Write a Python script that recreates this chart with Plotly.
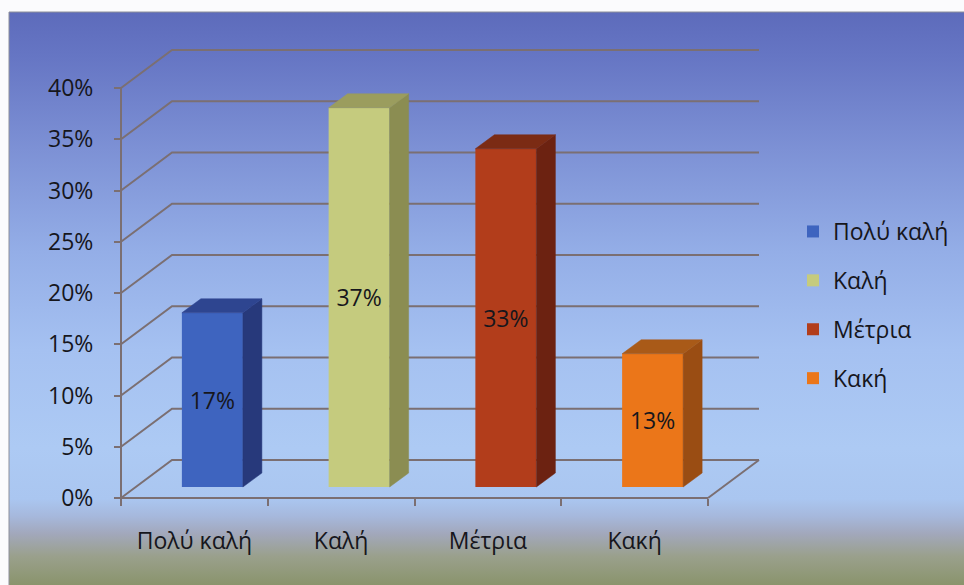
import base64
import plotly.graph_objects as go

# ---- data -------------------------------------------------------------
categories = ["Πολύ καλή", "Καλή", "Μέτρια", "Κακή"]
shares = [17, 37, 33, 13]
y_ticks = [0, 5, 10, 15, 20, 25, 30, 35, 40]
y_tick_labels = [f"{t}%" for t in y_ticks]

front_colors = ["#3e64bf", "#c5cb7e", "#b23d1b", "#eb7619"]
side_colors = ["#27397b", "#8b8d52", "#6c2211", "#9a4d13"]
top_colors = ["#2e4590", "#9b9d5e", "#7b2b14", "#a95a18"]

# ---- geometry -----------------------------------------------------------
W, H = 964, 585
X0_PX, Y0_PX = 121, 498          # front-left corner of the floor (x=0, 0%)
PX_PER_CAT = 146.75
PX_PER_PCT = 10.25

# pseudo-3D offsets, converted to data units
WALL_DX, WALL_DY = 51 / PX_PER_CAT, 38 / PX_PER_PCT
BAR_SHIFT_X, BAR_SHIFT_Y = 18 / PX_PER_CAT, 11 / PX_PER_PCT
BAR_DEPTH_X, BAR_DEPTH_Y = 19 / PX_PER_CAT, 14 / PX_PER_PCT
BAR_WIDTH = 61 / PX_PER_CAT
N = len(categories)

FONT = "Open Sans"
FONT_SIZE = 23
TEXT_COLOR = "#16161c"
GRID_COLOR = "#7b6f72"

x_range = [-X0_PX / PX_PER_CAT, (W - X0_PX) / PX_PER_CAT]
y_range = [(Y0_PX - H) / PX_PER_PCT, Y0_PX / PX_PER_PCT]

# ---- background gradient (SVG image) -----------------------------------
BG_LEFT, BG_TOP = 9, 12
stops = [(0.00, "#5d6bbb"), (0.08, "#6676c4"), (0.24, "#7d91d5"),
         (0.42, "#94aee7"), (0.59, "#a5c1f1"), (0.76, "#adcaf4"),
         (0.85, "#aac6f0"), (0.88, "#a6b8dc"), (0.91, "#a2a8bc"),
         (0.95, "#9aa08c"), (1.00, "#8a946c")]
stop_xml = "".join(f'<stop offset="{o}" stop-color="{c}"/>' for o, c in stops)
svg = ('<svg xmlns="http://www.w3.org/2000/svg" width="100" height="100" '
       'preserveAspectRatio="none"><defs><linearGradient id="g" x1="0" y1="0" '
       f'x2="0" y2="1">{stop_xml}</linearGradient></defs>'
       '<rect width="100" height="100" fill="url(#g)"/></svg>')
bg_src = "data:image/svg+xml;base64," + base64.b64encode(svg.encode()).decode()

fig = go.Figure()

# ---- bars: front faces as real bars, side/top faces as polygons ---------
for i, (cat, v) in enumerate(zip(categories, shares)):
    xc = i + 0.5 + BAR_SHIFT_X
    fig.add_trace(go.Bar(
        x=[xc], y=[v], base=[BAR_SHIFT_Y], width=[BAR_WIDTH],
        name=cat, legendgroup=cat,
        marker=dict(color=front_colors[i], line=dict(width=0)),
        text=[f"{v}%"], textposition="inside", insidetextanchor="middle",
        textangle=0, constraintext="none",
        insidetextfont=dict(family=FONT, size=FONT_SIZE, color=TEXT_COLOR),
        hoverinfo="skip",
    ))

for i, v in enumerate(shares):
    xr = i + 0.5 + BAR_SHIFT_X + BAR_WIDTH / 2
    xl = xr - BAR_WIDTH
    b = BAR_SHIFT_Y
    t = b + v
    dx, dy = BAR_DEPTH_X, BAR_DEPTH_Y
    fig.add_trace(go.Scatter(
        x=[xr, xr + dx, xr + dx, xr, xr], y=[b, b + dy, t + dy, t, b],
        mode="lines", fill="toself", fillcolor=side_colors[i],
        line=dict(color=side_colors[i], width=0.5),
        showlegend=False, hoverinfo="skip"))
    fig.add_trace(go.Scatter(
        x=[xl, xr, xr + dx, xl + dx, xl], y=[t, t, t + dy, t + dy, t],
        mode="lines", fill="toself", fillcolor=top_colors[i],
        line=dict(color=top_colors[i], width=0.5),
        showlegend=False, hoverinfo="skip"))

# ---- walls, floor and axis lines ----------------------------------------
shapes = []
for t in y_ticks:
    shapes.append(dict(
        type="path", xref="x", yref="y", layer="below",
        path=f"M 0,{t} L {WALL_DX},{t + WALL_DY} L {N + WALL_DX},{t + WALL_DY}",
        line=dict(color=GRID_COLOR, width=2)))
shapes.append(dict(type="line", xref="x", yref="y", layer="below",
                   x0=N, y0=0, x1=N + WALL_DX, y1=WALL_DY,
                   line=dict(color=GRID_COLOR, width=2)))
shapes.append(dict(type="line", xref="x", yref="y", layer="below",
                   x0=0, y0=0, x1=N, y1=0,
                   line=dict(color=GRID_COLOR, width=2)))
shapes.append(dict(type="line", xref="x", yref="y", layer="below",
                   x0=0, y0=0, x1=0, y1=y_ticks[-1],
                   line=dict(color=GRID_COLOR, width=2)))
# frame edge of the picture area
shapes.append(dict(type="path", xref="paper", yref="paper", layer="above",
                   path=f"M {BG_LEFT / W},0 L {BG_LEFT / W},{1 - BG_TOP / H} L 1,{1 - BG_TOP / H}",
                   line=dict(color="#8d8f9a", width=1)))

fig.update_layout(
    width=W, height=H,
    margin=dict(l=0, r=0, t=0, b=0),
    paper_bgcolor="#fbfbfd",
    plot_bgcolor="rgba(0,0,0,0)",
    barmode="overlay",
    shapes=shapes,
    images=[dict(source=bg_src, xref="paper", yref="paper",
                 x=BG_LEFT / W, y=1 - BG_TOP / H,
                 sizex=1 - BG_LEFT / W, sizey=1 - BG_TOP / H,
                 xanchor="left", yanchor="top", sizing="stretch",
                 layer="below")],
    font=dict(family=FONT, size=FONT_SIZE, color=TEXT_COLOR),
    xaxis=dict(
        range=x_range, domain=[0, 1], anchor="free", position=(H - Y0_PX) / H,
        tickmode="array", tickvals=[i + 0.5 for i in range(N)], ticktext=categories,
        ticks="", ticklabelstandoff=27,
        minor=dict(tickmode="array", tickvals=list(range(N + 1)), ticks="outside",
                   ticklen=7, tickwidth=2, tickcolor=GRID_COLOR),
        showgrid=False, zeroline=False, showline=False, fixedrange=True,
        tickfont=dict(family=FONT, size=FONT_SIZE, color=TEXT_COLOR),
    ),
    yaxis=dict(
        range=y_range, domain=[0, 1], anchor="free", position=X0_PX / W,
        tickmode="array", tickvals=y_ticks, ticktext=y_tick_labels,
        ticks="outside", ticklen=7, tickwidth=2, tickcolor=GRID_COLOR,
        ticklabelstandoff=16,
        showgrid=False, zeroline=False, showline=False, fixedrange=True,
        tickfont=dict(family=FONT, size=FONT_SIZE, color=TEXT_COLOR),
    ),
    legend=dict(
        x=793 / W, y=1 - 210 / H, xanchor="left", yanchor="top",
        bgcolor="rgba(0,0,0,0)", tracegroupgap=16, itemwidth=30,
        font=dict(family=FONT, size=FONT_SIZE, color=TEXT_COLOR),
    ),
)

fig.write_html("out.html")
